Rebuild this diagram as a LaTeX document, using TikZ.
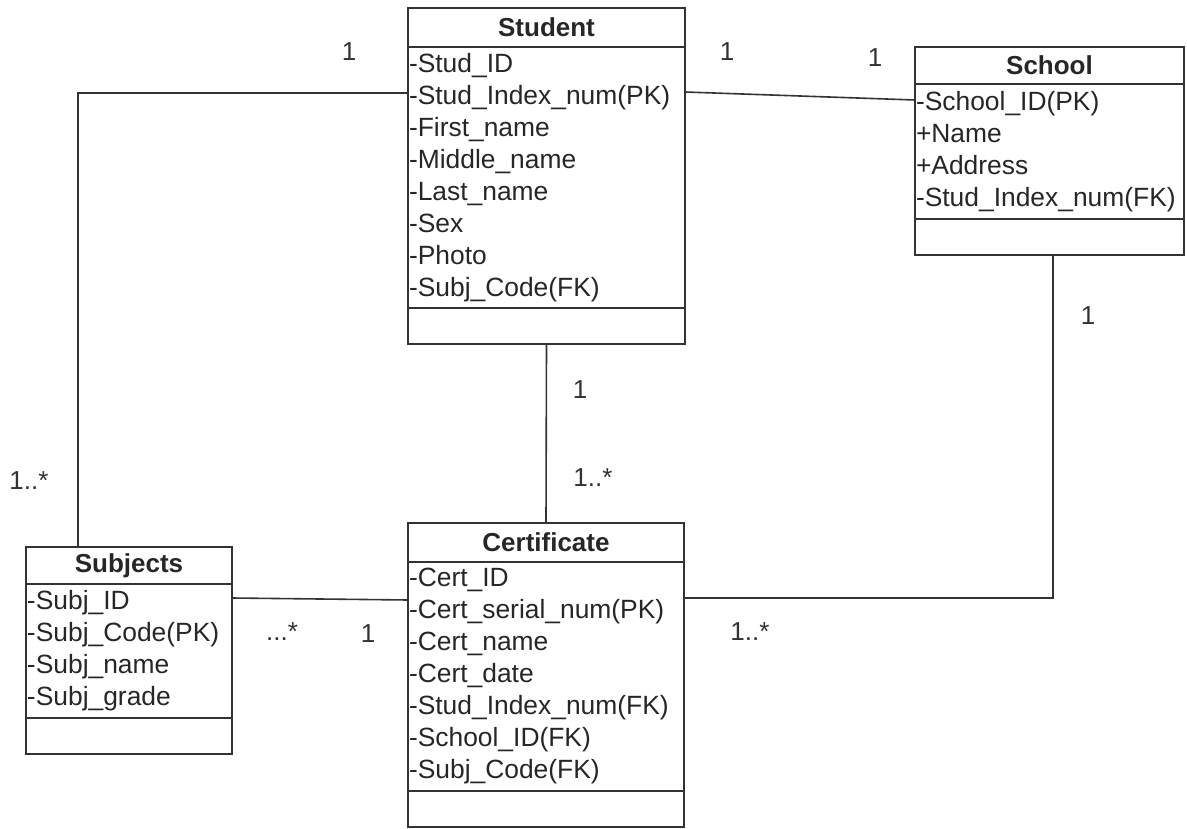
\documentclass[tikz,border=0pt]{standalone}
\usepackage{fontspec}
\setmainfont{Liberation Sans}
\usetikzlibrary{positioning}

\tikzset{
  cls/.style={draw=black!80, line width=1.6pt, inner xsep=1pt, inner ysep=0pt, outer sep=0pt, anchor=north west, text=black!85},
  clstitle/.style={cls, font=\bfseries\fontsize{26}{32}\selectfont},
  clsattr/.style={cls, align=left, font=\fontsize{26.4}{32}\selectfont},
  clsops/.style={cls},
  conn/.style={draw=black!80, line width=1.6pt},
  mult/.style={font=\fontsize{26}{32}\selectfont, text=black!80, inner sep=0pt}
}

\begin{document}
\begin{tikzpicture}[x=1pt, y=-1pt]
\useasboundingbox (0,0) rectangle (1187,829);

% Student
\node[clstitle, minimum width=277pt, minimum height=39pt] (stud) at (408,8) {Student};
\node[clsattr, text width=275pt, minimum height=261pt] (studattr) at (stud.south west)
  {-Stud\_ID\\-Stud\_Index\_num(PK)\\-First\_name\\-Middle\_name\\-Last\_name\\-Sex\\-Photo\\-Subj\_Code(FK)};
\node[clsops, minimum width=277pt, minimum height=36pt] (studops) at (studattr.south west) {};

% School
\node[clstitle, minimum width=269pt, minimum height=37pt] (sch) at (915,47) {School};
\node[clsattr, text width=267pt, minimum height=135pt] (schattr) at (sch.south west)
  {-School\_ID(PK)\\+Name\\+Address\\-Stud\_Index\_num(FK)};
\node[clsops, minimum width=269pt, minimum height=36pt] (schops) at (schattr.south west) {};

% Subjects
\node[clstitle, minimum width=206pt, minimum height=37pt] (subj) at (26,547) {Subjects};
\node[clsattr, text width=204pt, minimum height=134pt] (subjattr) at (subj.south west)
  {-Subj\_ID\\-Subj\_Code(PK)\\-Subj\_name\\-Subj\_grade};
\node[clsops, minimum width=206pt, minimum height=36pt] (subjops) at (subjattr.south west) {};

% Certificate
\node[clstitle, minimum width=276pt, minimum height=39pt] (cert) at (408,523) {Certificate};
\node[clsattr, text width=274pt, minimum height=229pt] (certattr) at (cert.south west)
  {-Cert\_ID\\-Cert\_serial\_num(PK)\\-Cert\_name\\-Cert\_date\\-Stud\_Index\_num(FK)\\-School\_ID(FK)\\-Subj\_Code(FK)};
\node[clsops, minimum width=276pt, minimum height=36pt] (certops) at (certattr.south west) {};

% associations
\draw[conn] ([yshift=-46pt]studattr.north west) -| ([xshift=-51pt]subj.north);
\draw[conn] ([yshift=-45pt]studattr.north east) -- ([yshift=-16pt]schattr.north west);
\draw[conn] (studops.south) -- (cert.north);
\draw[conn] ([yshift=-14pt]subjattr.north east) -- ([yshift=-38pt]certattr.north west);
\draw[conn] ([yshift=-36pt]certattr.north east) -| ([xshift=3.5pt]schops.south);

% multiplicities
\node[mult] (m1) at (349,52) {1};
\node[mult] (m2) at (727,52) {1};
\node[mult] (m3) at (875,58) {1};
\node[mult] (m4) at (1088,316) {1};
\node[mult] (m5) at (580,390) {1};
\node[mult] (m6) at (593,478) {1..*};
\node[mult] (m7) at (29,481) {1..*};
\node[mult] (m8) at (282,632) {...*};
\node[mult] (m9) at (368,634) {1};
\node[mult] (m10) at (750,632) {1..*};
\end{tikzpicture}
\end{document}
